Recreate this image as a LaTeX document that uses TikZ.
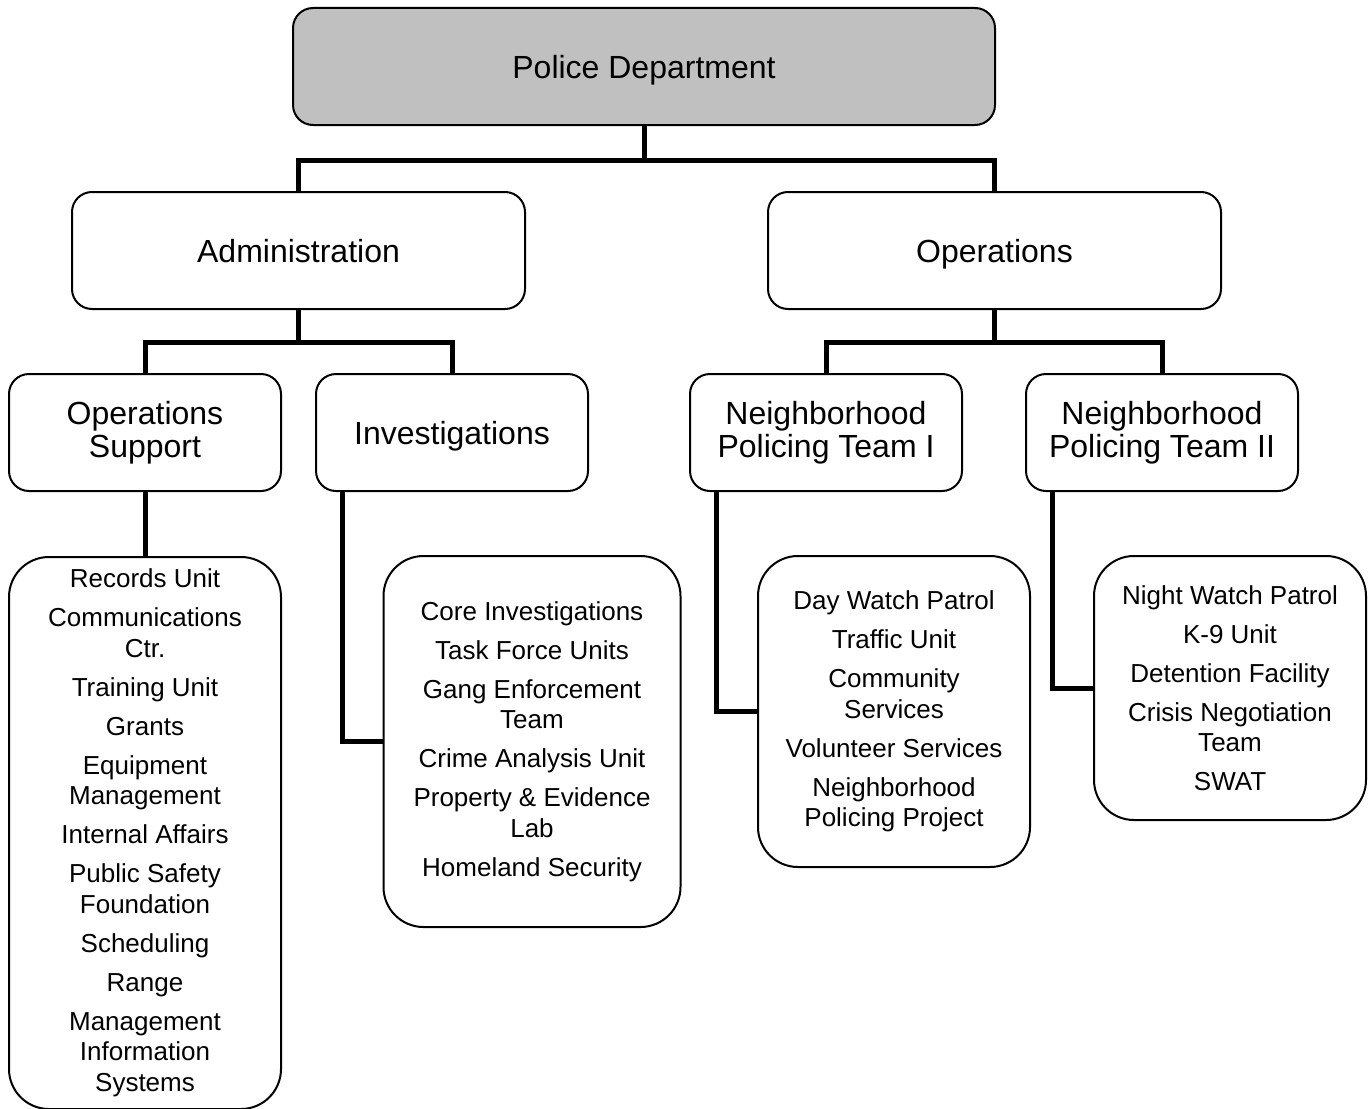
\documentclass[tikz,border=0pt]{standalone}
\usepackage{fontspec}
\setmainfont{Liberation Sans}
\definecolor{hdgray}{HTML}{C0C0C0}
\begin{document}
\begin{tikzpicture}[x=1pt,y=-1pt,
  box/.style={draw=black,line width=2pt,rounded corners=20pt,fill=white,inner sep=0pt,
    align=center,font=\fontsize{32}{33}\selectfont},
  oneline/.style={text height=23pt,text depth=0pt},
  listbox/.style={draw=black,line width=2pt,rounded corners=40pt,fill=white,inner sep=0pt,
    align=center,font=\fontsize{26}{30.5}\selectfont},
  conn/.style={line width=5pt,line join=miter}]
\useasboundingbox (0,0) rectangle (1370,1108);
% level 1
\node[box,oneline,fill=hdgray,minimum width=702,minimum height=117] (pd) at (644,66.5) {Police Department};
% level 2
\node[box,oneline,minimum width=453,minimum height=117] (adm) at (298.5,250.5) {Administration};
\node[box,oneline,minimum width=453,minimum height=117] (ops) at (994.5,250.5) {Operations};
% level 3
\node[box,minimum width=272,minimum height=117] (os) at (145,432.5) {\rule{0pt}{4pt}Operations\\Support};
\node[box,oneline,minimum width=272,minimum height=117] (inv) at (452,432.5) {Investigations};
\node[box,minimum width=272,minimum height=117] (npa) at (826,432.5) {\rule{0pt}{4pt}Neighborhood\\Policing Team I};
\node[box,minimum width=272,minimum height=117] (npb) at (1162,432.5) {\rule{0pt}{4pt}Neighborhood\\Policing Team II};
% lists
\node[listbox,minimum width=272,minimum height=552] (la) at (145,833)
 {Records Unit\\[8.5pt] Communications\\Ctr.\\[8.5pt] Training Unit\\[8.5pt] Grants\\[8.5pt]
  Equipment\\Management\\[8.5pt] Internal Affairs\\[8.5pt] Public Safety\\Foundation\\[8.5pt]
  Scheduling\\[8.5pt] Range\\[8.5pt] Management\\Information\\Systems};
\node[listbox,minimum width=297,minimum height=371] (lb) at (532,741.5)
 {Core Investigations\\[8.5pt] Task Force Units\\[8.5pt] Gang Enforcement\\Team\\[8.5pt]
  Crime Analysis Unit\\[8.5pt] Property \& Evidence\\Lab\\[8.5pt] Homeland Security};
\node[listbox,minimum width=272,minimum height=311] (lc) at (894,711.5)
 {Day Watch Patrol\\[8.5pt] Traffic Unit\\[8.5pt] Community\\Services\\[8.5pt]
  Volunteer Services\\[8.5pt] Neighborhood\\Policing Project};
\node[listbox,minimum width=272,minimum height=264] (ld) at (1230,688)
 {Night Watch Patrol\\[8.5pt] K-9 Unit\\[8.5pt] Detention Facility\\[8.5pt]
  Crisis Negotiation\\Team\\[8.5pt] SWAT};
% connectors
\coordinate (bar1) at (644,160);
\coordinate (bar2) at (298.5,342);
\coordinate (bar3) at (994.5,342);
\draw[conn] (pd.south) -- (bar1) -| (adm.north);
\draw[conn] (bar1) -| (ops.north);
\draw[conn] (adm.south) -- (bar2) -| (os.north);
\draw[conn] (bar2) -| (inv.north);
\draw[conn] (ops.south) -- (bar3) -| (npa.north);
\draw[conn] (bar3) -| (npb.north);
\draw[conn] (os.south) -- (la.north);
\draw[conn] ([xshift=27pt]inv.south west) |- (lb.west);
\draw[conn] ([xshift=27pt]npa.south west) |- (lc.west);
\draw[conn] ([xshift=27pt]npb.south west) |- (ld.west);
\end{tikzpicture}
\end{document}
